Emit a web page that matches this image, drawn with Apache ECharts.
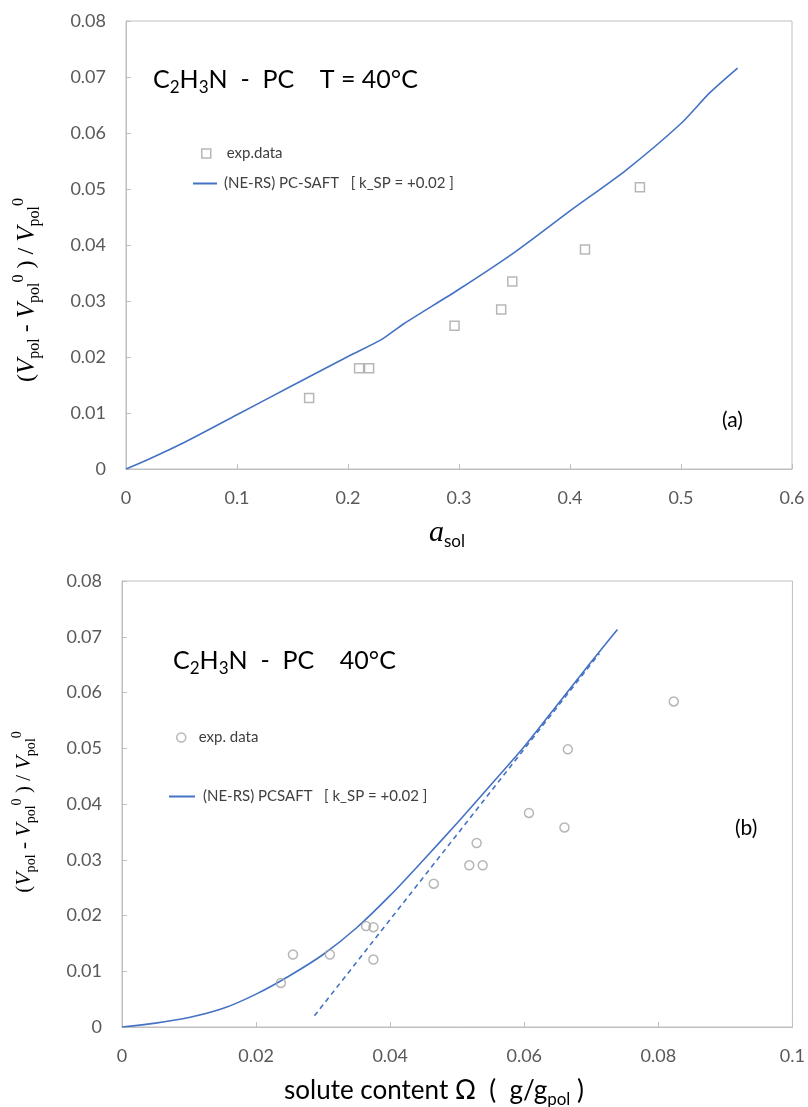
<!DOCTYPE html>
<html>
<head>
<meta charset="utf-8">
<script src="https://cdn.jsdelivr.net/npm/echarts@6/dist/echarts.min.js"></script>
<style>
  html, body { margin: 0; padding: 0; background: #fff; }
  #chart { width: 808px; height: 1107px; }
</style>
</head>
<body>
<div id="chart"></div>
<script>
// (a) swelling vs. solvent activity
const actExpX = [0.165, 0.210, 0.219, 0.296, 0.338, 0.348, 0.4135, 0.463];
const actExpY = [0.0127, 0.0180, 0.0180, 0.0256, 0.0285, 0.0335, 0.0392, 0.0503];
const actModelX = [0, 0.02, 0.05, 0.1, 0.15, 0.2, 0.23, 0.25, 0.3, 0.35, 0.4, 0.45, 0.5, 0.526, 0.551];
const actModelY = [0, 0.0017, 0.0045, 0.0097, 0.0149, 0.0201, 0.0231, 0.0259, 0.0321, 0.0387, 0.0461, 0.0533, 0.0617, 0.0672, 0.0716];

// (b) swelling vs. solute content
const omgExpX = [0.0237, 0.0255, 0.0310, 0.0364, 0.0375, 0.0375, 0.0465, 0.0518, 0.0529, 0.0538, 0.0607, 0.0660, 0.0665, 0.0823];
const omgExpY = [0.0079, 0.0130, 0.0130, 0.0181, 0.0179, 0.0121, 0.0257, 0.0290, 0.0330, 0.0290, 0.0384, 0.0358, 0.0498, 0.0584];
const omgModelX = [0, 0.005, 0.01, 0.015, 0.02, 0.025, 0.03, 0.035, 0.04, 0.045, 0.05, 0.055, 0.06, 0.065, 0.07, 0.0739];
const omgModelY = [0, 0.0007, 0.0017, 0.0033, 0.0059, 0.0092, 0.0130, 0.0178, 0.0236, 0.0300, 0.0366, 0.0434, 0.0503, 0.0579, 0.0655, 0.0713];
const omgAsymX = [0.0287, 0.0712];
const omgAsymY = [0.0020, 0.0670];

const BLUE = '#4472C4';
const GREY = '#A5A5A5';
const AXIS = '#BFBFBF';
const LABEL = '#595959';
const SANS = 'Lato';
const SERIF = '"Liberation Serif", "DejaVu Serif", serif';

const pairs = (xs, ys) => xs.map((x, i) => [x, ys[i]]);
const tickFmt = v => (v === 0 ? '0' : String(Math.round(v * 1000) / 1000));

function valueAxis(gridIndex, max, interval) {
  return {
    type: 'value', gridIndex, min: 0, max, interval,
    axisLine: { show: true, lineStyle: { color: AXIS, width: 1 } },
    axisTick: { show: true, inside: true, length: 5, lineStyle: { color: AXIS } },
    splitLine: { show: false },
    axisLabel: { color: LABEL, fontSize: 18, fontFamily: SANS, margin: 20, formatter: tickFmt }
  };
}

// y-axis title with italic V, subscript "pol" and superscript 0
function yTitleRich(k) {
  const c = '#404040';
  return {
    base: { fontFamily: SERIF, fontSize: 24 * k, color: c, lineHeight: 32 * k },
    v: { fontFamily: SERIF, fontSize: 25 * k, fontStyle: 'italic', color: c, lineHeight: 32 * k },
    sub: { fontFamily: SERIF, fontSize: 16 * k, color: c, lineHeight: 17 * k, verticalAlign: 'bottom' },
    sup: { fontFamily: SERIF, fontSize: 16 * k, color: c, lineHeight: 17 * k, verticalAlign: 'top' }
  };
}
const yTitleText = '{base|(}{v|V}{sub|pol}{base| - }{v|V}{sub|pol}{sup|0}{base| ) / }{v|V}{sub|pol}{sup|0}';

const titleRich = {
  t: { fontFamily: SANS, fontSize: 25, color: '#000', lineHeight: 34 },
  s: { fontFamily: SANS, fontSize: 17, color: '#000', lineHeight: 18, verticalAlign: 'bottom' }
};

const legendText = { color: '#404040', fontSize: 15, fontFamily: SANS };
const hollow = { color: 'transparent', borderColor: GREY, borderWidth: 1.5 };
const lineIcon = { color: 'transparent', borderWidth: 0 };

const option = {
  animation: false,
  backgroundColor: '#fff',
  grid: [
    { left: 126, top: 21, width: 666, height: 448, show: true, borderColor: AXIS, borderWidth: 1 },
    { left: 122, top: 581, width: 675, height: 446, show: true, borderColor: AXIS, borderWidth: 1 }
  ],
  xAxis: [valueAxis(0, 0.6, 0.1), valueAxis(1, 0.1, 0.02)],
  yAxis: [valueAxis(0, 0.08, 0.01), valueAxis(1, 0.08, 0.01)],
  legend: [
    { data: ['exp.data'], left: 196, top: 141, itemWidth: 9, itemHeight: 9,
      textStyle: Object.assign({ padding: [0, 0, 0, 11] }, legendText), itemStyle: hollow },
    { data: ['(NE-RS) PC-SAFT   [ k_SP = +0.02 ]'], left: 187, top: 171, itemWidth: 24, itemHeight: 14,
      textStyle: Object.assign({ padding: [0, 0, 0, 2] }, legendText), itemStyle: lineIcon },
    { data: ['exp. data'], left: 171, top: 725, itemWidth: 9, itemHeight: 9,
      textStyle: Object.assign({ padding: [0, 0, 0, 8] }, legendText), itemStyle: hollow },
    { data: ['(NE-RS) PCSAFT   [ k_SP = +0.02 ]'], left: 163, top: 784, itemWidth: 26, itemHeight: 14,
      textStyle: Object.assign({ padding: [0, 0, 0, 3] }, legendText), itemStyle: lineIcon }
  ],
  series: [
    {
      name: '(NE-RS) PC-SAFT   [ k_SP = +0.02 ]', type: 'line', xAxisIndex: 0, yAxisIndex: 0,
      data: pairs(actModelX, actModelY), symbol: 'none', smooth: 0.25,
      lineStyle: { color: BLUE, width: 1.6 }, itemStyle: { color: BLUE }, z: 3
    },
    {
      name: 'exp.data', type: 'scatter', xAxisIndex: 0, yAxisIndex: 0,
      data: pairs(actExpX, actExpY), symbol: 'rect', symbolSize: 9,
      itemStyle: hollow, z: 4
    },
    {
      name: '(NE-RS) PCSAFT   [ k_SP = +0.02 ]', type: 'line', xAxisIndex: 1, yAxisIndex: 1,
      data: pairs(omgModelX, omgModelY), symbol: 'none', smooth: 0.3,
      lineStyle: { color: BLUE, width: 1.6 }, itemStyle: { color: BLUE }, z: 3
    },
    {
      name: 'asymptote', type: 'line', xAxisIndex: 1, yAxisIndex: 1,
      data: pairs(omgAsymX, omgAsymY), symbol: 'none',
      lineStyle: { color: BLUE, width: 1.6, type: [5, 4] }, z: 3
    },
    {
      name: 'exp. data', type: 'scatter', xAxisIndex: 1, yAxisIndex: 1,
      data: pairs(omgExpX, omgExpY), symbol: 'circle', symbolSize: 9,
      itemStyle: hollow, z: 4
    }
  ],
  graphic: [
    { type: 'text', left: 153, top: 67, style: { text: '{t|C}{s|2}{t|H}{s|3}{t|N  -  PC    T = 40°C}', rich: titleRich } },
    { type: 'text', left: 173, top: 648, style: { text: '{t|C}{s|2}{t|H}{s|3}{t|N  -  PC    40°C}', rich: titleRich } },
    { type: 'text', left: 722, top: 410, style: { text: '(a)', fill: '#000', font: '21px ' + SANS } },
    { type: 'text', left: 735, top: 818, style: { text: '(b)', fill: '#000', font: '21px ' + SANS } },
    { type: 'text', x: 27, y: 290, rotation: Math.PI / 2,
      style: { text: yTitleText, rich: yTitleRich(1.0), align: 'center', verticalAlign: 'middle' } },
    { type: 'text', x: 24, y: 812, rotation: Math.PI / 2,
      style: { text: yTitleText, rich: yTitleRich(0.88), align: 'center', verticalAlign: 'middle' } },
    { type: 'text', x: 447, y: 533,
      style: { text: '{a|a}{s|sol}', align: 'center', verticalAlign: 'middle',
        rich: { a: { fontFamily: SERIF, fontStyle: 'italic', fontSize: 30, color: LABEL, lineHeight: 34 },
                s: { fontFamily: SANS, fontSize: 17, color: LABEL, lineHeight: 19, verticalAlign: 'bottom' } } } },
    { type: 'text', x: 434, y: 1091,
      style: { text: '{t|solute content Ω  (  g/g}{s|pol}{t| )}', align: 'center', verticalAlign: 'middle',
        rich: { t: { fontFamily: SANS, fontSize: 26, color: LABEL, lineHeight: 34 },
                s: { fontFamily: SANS, fontSize: 17, color: LABEL, lineHeight: 18, verticalAlign: 'bottom' } } } }
  ]
};

const chart = echarts.init(document.getElementById('chart'), null, { renderer: 'canvas' });
chart.setOption(option);
</script>
</body>
</html>
